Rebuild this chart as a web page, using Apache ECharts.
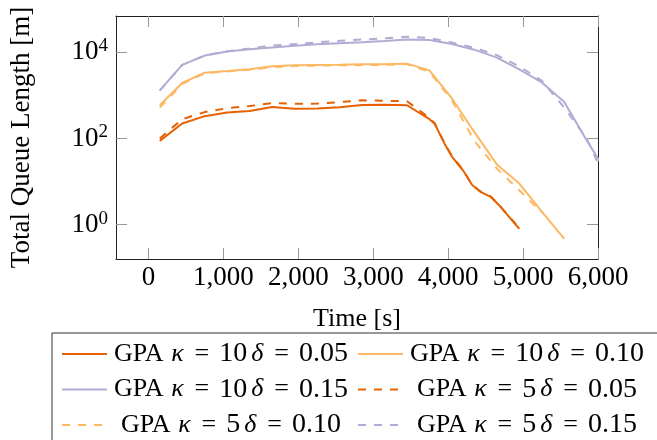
<!DOCTYPE html>
<html><head><meta charset="utf-8">
<script src="https://cdn.jsdelivr.net/npm/echarts@6/dist/echarts.min.js"></script>
<style>html,body{margin:0;padding:0;background:#fff}#c{width:657px;height:440px}</style>
</head><body><div id="c"></div>
<script>
// ---- data ----
const xTicks = [0, 1000, 2000, 3000, 4000, 5000, 6000];
const yTicks = [1, 100, 10000];

const names = [
  'GPA κ = 10 δ = 0.05', 'GPA κ = 10 δ = 0.10', 'GPA κ = 10 δ = 0.15',
  'GPA κ = 5 δ = 0.05',  'GPA κ = 5 δ = 0.10',  'GPA κ = 5 δ = 0.15'
];

const tK10D05 = [150,450,750,1050,1350,1650,1950,2250,2550,2850,3150,3450,3750,3820,3950,4050,4200,4320,4430,4570,4700,4830,4950];
const vK10D05 = [88,222,330,400,435,540,492,495,530,600,610,590,280,220,77,38,18,8.3,5.8,4.4,2.6,1.4,0.8];

const tK10D10 = [150,450,750,1050,1350,1650,1950,2250,2550,2850,3150,3450,3750,4050,4350,4650,4950,5250,5550];
const vK10D10 = [590,1940,3370,3670,4020,4720,5000,5100,5150,5250,5300,5450,3800,850,140,25,9,2.0,0.47];

const tK10D15 = [150,450,750,1050,1350,1650,1950,2250,2550,2850,3150,3450,3750,4050,4350,4650,4950,5250,5550,5850,6150];
const vK10D15 = [1310,5100,8400,10400,11700,13000,14200,15300,16300,17200,18200,19700,19200,15500,11500,7500,4000,2000,700,90,13];

const tK5D05 = [150,450,750,1050,1350,1650,1950,2250,2550,2850,3150,3450,3750,3820,3950,4050,4200,4320,4430,4570,4700,4830,4950];
const vK5D05 = [100,280,410,505,565,660,640,645,700,770,750,730,300,225,79,39,18.5,8.5,5.9,4.5,2.6,1.45,0.82];

const tK5D10 = [150,450,750,1050,1350,1650,1950,2250,2550,2850,3150,3450,3750,4050,4350,4650,4950,5250];
const vK5D10 = [520,1850,3250,3600,3950,4500,4800,4900,5000,5050,5100,5300,3500,770,88,20,6.3,1.9];

const tK5D15 = [150,450,750,1050,1350,1650,1950,2250,2550,2850,3150,3450,3750,4050,4350,4650,4950,5250,5550,5850,6150];
const vK5D15 = [1290,5100,8400,10600,12300,14400,15500,17000,18500,19800,21000,23000,21500,16800,12800,8600,4700,2200,520,100,7];

const times = [tK10D05, tK10D10, tK10D15, tK5D05, tK5D10, tK5D15];
const values = [vK10D05, vK10D10, vK10D15, vK5D05, vK5D10, vK5D15];
const colors = ['#e66101', '#fdb863', '#b2abd2', '#e66101', '#fdb863', '#b2abd2'];
const dashed = [false, false, false, true, true, true];

// ---- chart ----
const FONT = 'Liberation Serif';
const TICK = { show: true, inside: true, length: 11, lineStyle: { color: '#999', width: 1 } };
const LINE = { show: true, onZero: false, lineStyle: { color: '#222', width: 1 } };

function fmtX(v) {
  if (v >= 1000) return Math.floor(v / 1000) + ',' + String(v % 1000).padStart(3, '0');
  return String(v);
}
function fmtLegend(name) {
  const m = name.match(/^GPA κ = (\S+) δ = (\S+)$/);
  if (!m) return name;
  return 'GPA {i|κ}{e|=}{d|' + m[1] + '}{s| }{i|δ}{e|=}{d|' + m[2] + '}';
}

const series = names.map((n, i) => ({
  name: n,
  type: 'line',
  data: times[i].map((t, j) => [t, values[i][j]]),
  symbol: 'none',
  clip: true,
  lineStyle: { color: colors[i], width: 2, type: dashed[i] ? [8, 8] : 'solid' },
  itemStyle: { color: colors[i] },
  z: 2 + i
}));

const legendText = {
  fontFamily: FONT, fontSize: 26, color: '#000', lineHeight: 26,
  rich: {
    i: { fontFamily: FONT, fontStyle: 'italic', fontSize: 26, lineHeight: 26, padding: [0, 1, 0, 1] },
    e: { fontFamily: FONT, fontSize: 26, lineHeight: 26, padding: [0, 10, 0, 10] },
    d: { fontFamily: FONT, fontSize: 28, lineHeight: 26 },
    s: { fontFamily: FONT, fontSize: 12, lineHeight: 26 }
  }
};
function legendItem(i) {
  return { name: names[i], textStyle: { padding: [0, 0, 0, dashed[i] ? 9 : 2] } };
}
const legendCommon = {
  orient: 'vertical', itemWidth: 45, itemHeight: 14, itemGap: 7.5,
  itemStyle: { opacity: 0 },
  formatter: fmtLegend, textStyle: legendText,
  width: 640, height: 200
};

const chart = echarts.init(document.getElementById('c'), null, { renderer: 'canvas' });
chart.setOption({
  animation: false,
  backgroundColor: '#fff',
  grid: { left: 113, right: 59, top: 16, bottom: 181, containLabel: false },
  xAxis: [
    {
      type: 'value', min: -434, max: 6000, position: 'bottom',
      name: 'Time [s]', nameLocation: 'middle', nameGap: 47,
      nameTextStyle: { fontFamily: FONT, fontSize: 26, color: '#000', lineHeight: 26 },
      axisLine: LINE,
      axisTick: Object.assign({ customValues: xTicks }, TICK),
      axisLabel: { customValues: xTicks, formatter: fmtX, fontFamily: FONT, fontSize: 27, lineHeight: 27, color: '#000', margin: 5 },
      splitLine: { show: false }
    },
    {
      type: 'value', min: -434, max: 6000, position: 'top',
      axisLine: LINE,
      axisTick: Object.assign({ customValues: xTicks }, TICK),
      axisLabel: { show: false },
      splitLine: { show: false }
    }
  ],
  yAxis: [
    {
      type: 'log', logBase: 10, min: 0.16, max: 69500, position: 'left',
      name: 'Total Queue Length [m]', nameLocation: 'middle', nameGap: 81, nameRotate: 90,
      nameTextStyle: { fontFamily: FONT, fontSize: 27, color: '#000', lineHeight: 27 },
      axisLine: LINE,
      axisTick: Object.assign({ customValues: yTicks }, TICK),
      axisLabel: {
        customValues: yTicks, margin: 8,
        formatter: v => '10{s|' + Math.round(Math.log10(v)) + '}',
        fontFamily: FONT, fontSize: 27, lineHeight: 31, color: '#000',
        rich: { s: { fontFamily: FONT, fontSize: 19, lineHeight: 19, verticalAlign: 'top', color: '#000' } }
      },
      splitLine: { show: false }
    },
    {
      type: 'log', logBase: 10, min: 0.16, max: 69500, position: 'right',
      axisLine: LINE,
      axisTick: Object.assign({ customValues: yTicks }, TICK),
      axisLabel: { show: false },
      splitLine: { show: false }
    }
  ],
  legend: [
    Object.assign({}, legendCommon, {
      left: 52, top: 333,
      padding: [7, 620, 40, 9],
      borderColor: '#333', borderWidth: 1, backgroundColor: 'transparent',
      data: [0, 2, 4].map(legendItem)
    }),
    Object.assign({}, legendCommon, {
      left: 357, top: 340, padding: 0,
      data: [1, 3, 5].map(legendItem)
    })
  ],
  series: series
});
</script>
</body></html>
